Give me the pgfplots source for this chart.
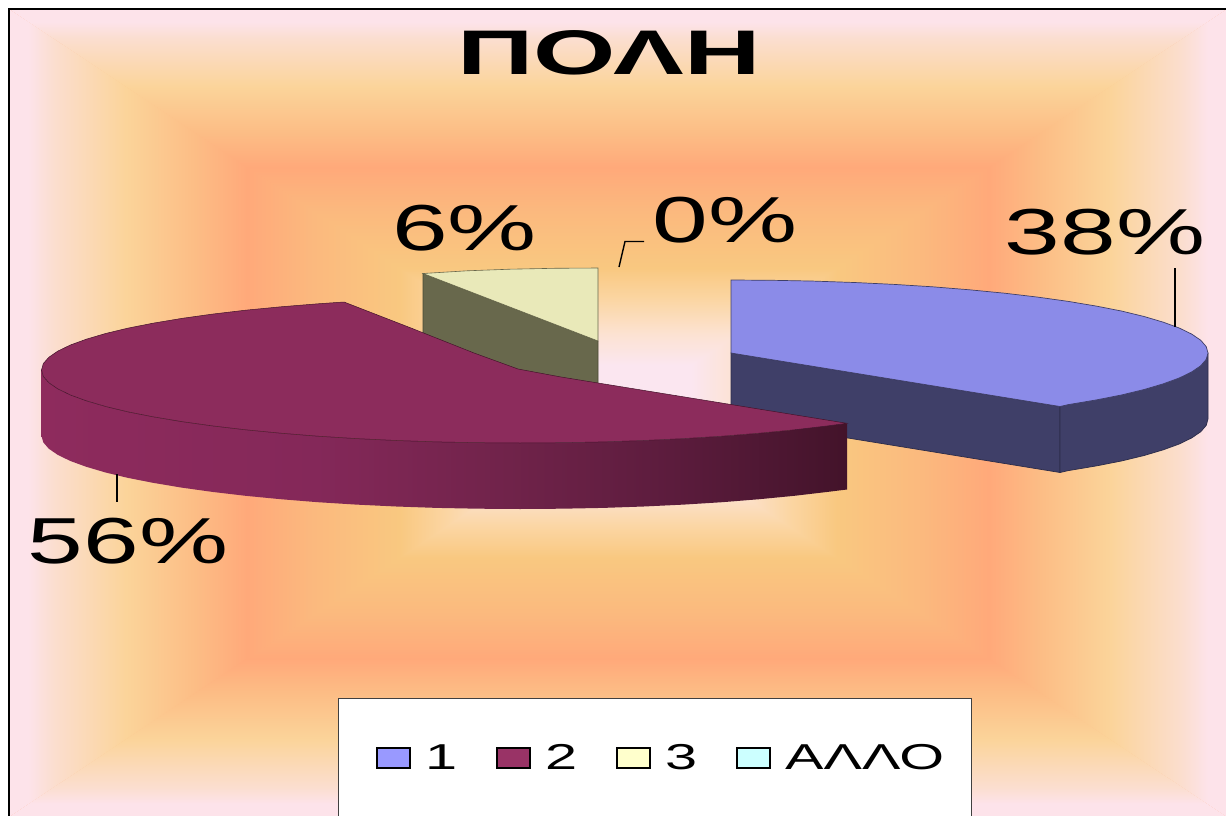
\documentclass[border=0pt]{standalone}
\usepackage{fontspec}
\setmainfont{Liberation Sans}
\usepackage{pgfplots}
\pgfplotsset{compat=1.18}
\usepackage{graphicx}

% Rectangular backdrop: one ramp, declared once per direction
\definecolor{g0}{HTML}{FDE3EA}\definecolor{g1}{HTML}{FBDED0}\definecolor{g2}{HTML}{FBD49A}
\definecolor{g3}{HTML}{FCBE86}\definecolor{g4}{HTML}{FFA97A}\definecolor{g5}{HTML}{FBB97E}
\definecolor{g6}{HTML}{F9C880}\definecolor{g7}{HTML}{FBD6A4}\definecolor{g8}{HTML}{FCE2D0}
\definecolor{g9}{HTML}{FBE6F0}
\pgfdeclarehorizontalshading{rampLR}{100bp}{color(0bp)=(g0);color(25bp)=(g0);color(26.5bp)=(g0);color(28.5bp)=(g1);color(34.5bp)=(g2);color(40bp)=(g3);color(44.5bp)=(g4);color(50bp)=(g5);color(57bp)=(g6);color(61bp)=(g7);color(65bp)=(g8);color(69bp)=(g9);color(75bp)=(g9);color(100bp)=(g9)}
\pgfdeclarehorizontalshading{rampRL}{100bp}{color(0bp)=(g9);color(25bp)=(g9);color(31bp)=(g9);color(35bp)=(g8);color(39bp)=(g7);color(43bp)=(g6);color(50bp)=(g5);color(55.5bp)=(g4);color(60bp)=(g3);color(65.5bp)=(g2);color(71.5bp)=(g1);color(73.5bp)=(g0);color(75bp)=(g0);color(100bp)=(g0)}
\pgfdeclareverticalshading{rampBT}{100bp}{color(0bp)=(g0);color(25bp)=(g0);color(26.5bp)=(g0);color(28.5bp)=(g1);color(34.5bp)=(g2);color(40bp)=(g3);color(44.5bp)=(g4);color(50bp)=(g5);color(57bp)=(g6);color(61bp)=(g7);color(65bp)=(g8);color(69bp)=(g9);color(75bp)=(g9);color(100bp)=(g9)}
\pgfdeclareverticalshading{rampTB}{100bp}{color(0bp)=(g9);color(25bp)=(g9);color(31bp)=(g9);color(35bp)=(g8);color(39bp)=(g7);color(43bp)=(g6);color(50bp)=(g5);color(55.5bp)=(g4);color(60bp)=(g3);color(65.5bp)=(g2);color(71.5bp)=(g1);color(73.5bp)=(g0);color(75bp)=(g0);color(100bp)=(g0)}
% Rim of the large slice, darkening towards its right end
\definecolor{r0}{HTML}{8E2B5D}\definecolor{r1}{HTML}{842859}\definecolor{r2}{HTML}{70234A}
\definecolor{r3}{HTML}{5C1C3D}\definecolor{r4}{HTML}{43132A}
\pgfdeclarehorizontalshading{rimred}{100bp}{color(0bp)=(r0);color(25bp)=(r0);color(42bp)=(r1);color(54bp)=(r2);color(64bp)=(r3);color(75bp)=(r4);color(100bp)=(r4)}

\definecolor{bluetop}{HTML}{8B8BE8}\definecolor{blueside}{HTML}{3F3F68}
\definecolor{redtop}{HTML}{8C2C5C}\definecolor{yellowtop}{HTML}{E9E9B9}\definecolor{yellowside}{HTML}{68684C}
\definecolor{key1}{HTML}{9999FF}\definecolor{key2}{HTML}{993366}\definecolor{key3}{HTML}{FFFFCC}\definecolor{key4}{HTML}{CCFFFF}

\newcommand{\wide}[1]{\scalebox{1.54}[1]{#1}}

\begin{document}
\begin{tikzpicture}
\path[use as bounding box] (0,0) rectangle (1226pt,816pt);
% backdrop, four mitred sectors around the middle of the panel
\fill[g4] (10pt,0) rectangle (1226pt,806pt);
\begin{scope}\clip (9pt,807pt) -- (619pt,403pt) -- (9pt,-1pt) -- cycle;
  \shade[shading=rampLR] (10pt,0) rectangle (618pt,806pt);\end{scope}
\begin{scope}\clip (1227pt,807pt) -- (617pt,403pt) -- (1227pt,-1pt) -- cycle;
  \shade[shading=rampRL] (618pt,0) rectangle (1226pt,806pt);\end{scope}
\begin{scope}\clip (9pt,807pt) -- (618pt,402pt) -- (1227pt,807pt) -- cycle;
  \shade[shading=rampTB] (10pt,403pt) rectangle (1226pt,806pt);\end{scope}
\begin{scope}\clip (9pt,-1pt) -- (618pt,404pt) -- (1227pt,-1pt) -- cycle;
  \shade[shading=rampBT] (10pt,0) rectangle (1226pt,403pt);\end{scope}
\draw[black,line width=1.6pt] (9pt,0) -- (9pt,806.8pt) -- (1226pt,806.8pt);

\begin{axis}[
  scale only axis, width=1226pt, height=816pt,
  xmin=0, xmax=1226, ymin=0, ymax=816, y dir=reverse,
  hide axis, clip=true,
  legend style={at={(axis description cs:0.3067,0.0711)},anchor=west,draw=none,fill=none,
    inner sep=0pt,outer sep=0pt,font=\fontsize{36}{36}\selectfont,legend columns=4,
    /tikz/every odd column/.style={column sep=12pt},
    /tikz/every even column/.style={column sep=37pt}},
  legend image code/.code={\draw[#1,line width=2pt] (0pt,-10pt) rectangle (33pt,10pt);},
]
% 3, 6 % : rim then top
\addplot[forget plot,fill=yellowside,draw=yellowside!70!black,line width=.6pt] coordinates
 {(423,273.5) (598,341) (598,407) (423,340)} -- cycle;
\addplot[forget plot,fill=yellowtop,draw=yellowside,line width=.6pt] coordinates
 {(423,273.5) (467,270.8) (510,269.2) (554,268.3) (598,268) (598,341)} -- cycle;

% 1, 38 % : front face, outer rim, top
\addplot[forget plot,fill=blueside,draw=blueside!70!black,line width=.7pt] coordinates
 {(731,353) (1060,406.5) (1060,472.5) (731,419)} -- cycle;
\addplot[forget plot,fill=blueside,draw=blueside!70!black,line width=.7pt] coordinates
 {(1208,353) (1208,419) (1206.2,425.4) (1200.8,431.7) (1191.7,437.9) (1179.2,444) (1163.3,449.8)
  (1144.1,455.5) (1121.8,460.9) (1096.4,465.9) (1068.3,470.6) (1060,472.5) (1060,406.5)} -- cycle;
\addplot[forget plot,fill=bluetop,draw=blueside,line width=.7pt] coordinates
 {(731,353) (731,280) (772.6,280.3) (813.8,281.1) (854.4,282.5) (894.1,284.4) (932.6,286.8)
  (969.5,289.8) (1004.6,293.2) (1037.6,297.1) (1068.3,301.4) (1096.4,306.1) (1121.8,311.1)
  (1144.1,316.5) (1163.3,322.2) (1179.2,328) (1191.7,334.1) (1200.8,340.3) (1206.2,346.6)
  (1208,353) (1206.2,359.4) (1200.8,365.7) (1191.7,371.9) (1179.2,378) (1163.3,383.8)
  (1144.1,389.5) (1121.8,394.9) (1096.4,399.9) (1068.3,404.6) (1060,406.5)} -- cycle;

% 2, 56 % : rim then top
\addplot[forget plot,shade,shading=rimred,draw=none] coordinates
 {(41.5,370) (43.3,376.4) (48.8,382.7) (57.8,388.9) (70.4,395) (86.3,400.8) (105.6,406.5) (128,411.9)
  (153.5,416.9) (181.6,421.6) (212.4,425.9) (245.5,429.8) (280.7,433.2) (317.8,436.2) (356.3,438.6)
  (396.2,440.5) (436.9,441.9) (478.3,442.7) (520,443) (561.7,442.7) (603.1,441.9) (643.8,440.5)
  (683.7,438.6) (722.2,436.2) (759.3,433.2) (794.5,429.8) (827.6,425.9) (847,423.5)
  (847,489.5) (827.6,491.9) (794.5,495.8) (759.3,499.2) (722.2,502.2) (683.7,504.6) (643.8,506.5)
  (603.1,507.9) (561.7,508.7) (520,509) (478.3,508.7) (436.9,507.9) (396.2,506.5) (356.3,504.6)
  (317.8,502.2) (280.7,499.2) (245.5,495.8) (212.4,491.9) (181.6,487.6) (153.5,482.9) (128,477.9)
  (105.6,472.5) (86.3,466.8) (70.4,461) (57.8,454.9) (48.8,448.7) (43.3,442.4) (41.5,436)} -- cycle;
\addplot[forget plot,fill=redtop,draw=r4,line width=.5pt] coordinates
 {(344,302) (317.8,303.8) (280.7,306.8) (245.5,310.2) (212.4,314.1) (181.6,318.4) (153.5,323.1)
  (128,328.1) (105.6,333.5) (86.3,339.2) (70.4,345) (57.8,351.1) (48.8,357.3) (43.3,363.6) (41.5,370)
  (43.3,376.4) (48.8,382.7) (57.8,388.9) (70.4,395) (86.3,400.8) (105.6,406.5) (128,411.9)
  (153.5,416.9) (181.6,421.6) (212.4,425.9) (245.5,429.8) (280.7,433.2) (317.8,436.2) (356.3,438.6)
  (396.2,440.5) (436.9,441.9) (478.3,442.7) (520,443) (561.7,442.7) (603.1,441.9) (643.8,440.5)
  (683.7,438.6) (722.2,436.2) (759.3,433.2) (794.5,429.8) (827.6,425.9) (847,423.3)
  (561,377) (518,369) (474,353) (411,328)} -- cycle;

% leader lines
\addplot[forget plot,black,line width=2pt] coordinates {(1174.5,268) (1174.5,327)};
\addplot[forget plot,black,line width=2pt] coordinates {(117,474) (117,502)};
\addplot[forget plot,black,line width=1.4pt] coordinates {(644,241.5) (625,241.5) (619,267)};

% legend panel runs off the lower edge
\addplot[forget plot,fill=white,draw=black!75,line width=1pt] coordinates
 {(338.5,698) (971,698) (971,830) (338.5,830)} -- cycle;

\addlegendimage{fill=key1,draw=black}\addlegendentry{\scalebox{1.6}[1]{1}}
\addlegendimage{fill=key2,draw=black}\addlegendentry{\scalebox{1.6}[1]{2}}
\addlegendimage{fill=key3,draw=black}\addlegendentry{\scalebox{1.6}[1]{3}}
\addlegendimage{fill=key4,draw=black}\addlegendentry{\scalebox{1.6}[1]{ΑΛΛΟ}}

% title and percentage labels
\node[inner sep=0pt] at (axis cs:609,53) {\fontsize{63}{63}\selectfont\bfseries\scalebox{1.68}[1]{ΠΟΛΗ}};
\node[inner sep=0pt] at (axis cs:464.5,228) {\fontsize{65}{65}\selectfont\wide{6\%}};
\node[inner sep=0pt] at (axis cs:725,220) {\fontsize{65}{65}\selectfont\wide{0\%}};
\node[inner sep=0pt] at (axis cs:1105,232) {\fontsize{65}{65}\selectfont\wide{38\%}};
\node[inner sep=0pt] at (axis cs:128,541) {\fontsize{65}{65}\selectfont\wide{56\%}};
\end{axis}
\end{tikzpicture}
\end{document}
